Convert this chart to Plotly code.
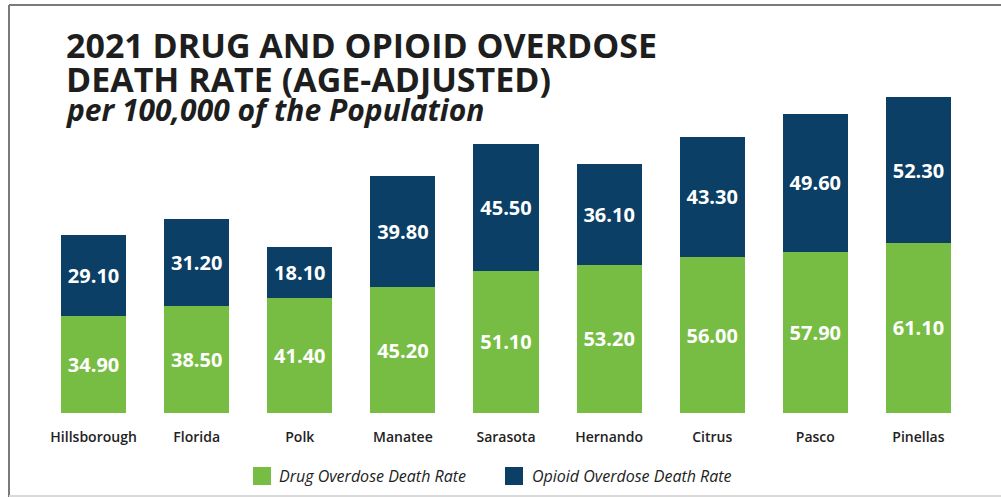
import plotly.graph_objects as go

counties = ["Hillsborough", "Florida", "Polk", "Manatee", "Sarasota", "Hernando", "Citrus", "Pasco", "Pinellas"]
drug_rate = [34.9, 38.5, 41.4, 45.2, 51.1, 53.2, 56.0, 57.9, 61.1]
opioid_rate = [29.1, 31.2, 18.1, 39.8, 45.5, 36.1, 43.3, 49.6, 52.3]
series_names = ["Drug Overdose Death Rate", "Opioid Overdose Death Rate"]
title_lines = ["2021 DRUG AND OPIOID OVERDOSE", "DEATH RATE (AGE-ADJUSTED)"]
subtitle = "per 100,000 of the Population"

GREEN = "#77BD43"
NAVY = "#0C3F66"
W, H = 1001, 497
ML, MR, MT, MB = 42, 31, 79, 84
PW, PH = W - ML - MR, H - MT - MB


def px(x):
    return (x - ML) / PW


def py(y):
    return (H - MB - y) / PH


fig = go.Figure()
for name, vals, col in [(series_names[0], drug_rate, GREEN), (series_names[1], opioid_rate, NAVY)]:
    fig.add_trace(go.Bar(
        x=counties, y=vals, name=name, marker=dict(color=col, line=dict(width=0)),
        text=[f"{v:.2f}" for v in vals], textposition="inside", insidetextanchor="middle",
        textangle=0, constraintext="none",
        insidetextfont=dict(family="Open Sans", size=20, color="white", weight=700),
        showlegend=False, hoverinfo="skip",
    ))

shapes = [
    dict(type="line", xref="paper", yref="paper", x0=px(9), x1=px(1001), y0=py(5), y1=py(5),
         line=dict(color="#7a7a7a", width=2)),
    dict(type="line", xref="paper", yref="paper", x0=px(9), x1=px(9), y0=py(5), y1=py(497),
         line=dict(color="#7a7a7a", width=2)),
    dict(type="line", xref="paper", yref="paper", x0=px(9), x1=px(1001), y0=py(496), y1=py(496),
         line=dict(color="#d9d9d9", width=2)),
]
annotations = []
# title
tfont = dict(family="Open Sans", size=34, color="#1e1e1e", weight=700)
annotations.append(dict(text=title_lines[0], x=px(64), y=py(45), xref="paper", yref="paper",
                        xanchor="left", yanchor="middle", showarrow=False, font=tfont))
annotations.append(dict(text=title_lines[1], x=px(64), y=py(79), xref="paper", yref="paper",
                        xanchor="left", yanchor="middle", showarrow=False, font=tfont))
annotations.append(dict(text=f"<i>{subtitle}</i>", x=px(64), y=py(109), xref="paper", yref="paper",
                        xanchor="left", yanchor="middle", showarrow=False,
                        font=dict(family="Open Sans", size=30, color="#1e1e1e", weight=700)))
# legend
for i, (sx, tx) in enumerate([(253, 277), (505, 530)]):
    shapes.append(dict(type="rect", xref="paper", yref="paper", x0=px(sx), x1=px(sx + 18),
                       y0=py(467), y1=py(485), fillcolor=[GREEN, NAVY][i], line=dict(width=0)))
    annotations.append(dict(text=f"<i>{series_names[i]}</i>", x=px(tx), y=py(476), xref="paper",
                            yref="paper", xanchor="left", yanchor="middle", showarrow=False,
                            font=dict(family="Open Sans", size=16, color="#222222")))

fig.update_layout(
    barmode="stack", bargap=0.369, width=W, height=H,
    margin=dict(l=ML, r=MR, t=MT, b=MB, autoexpand=False),
    plot_bgcolor="white", paper_bgcolor="white",
    shapes=shapes, annotations=annotations,
    xaxis=dict(showgrid=False, showline=False, zeroline=False, ticks="",
               tickfont=dict(family="Open Sans", size=14, color="#222222", weight=600),
               ticklabelstandoff=14),
    yaxis=dict(range=[0, 120], visible=False),
)
fig.write_html("out.html", config={"displayModeBar": False},
               post_script="document.body.style.margin='0';document.body.style.overflow='hidden';")
